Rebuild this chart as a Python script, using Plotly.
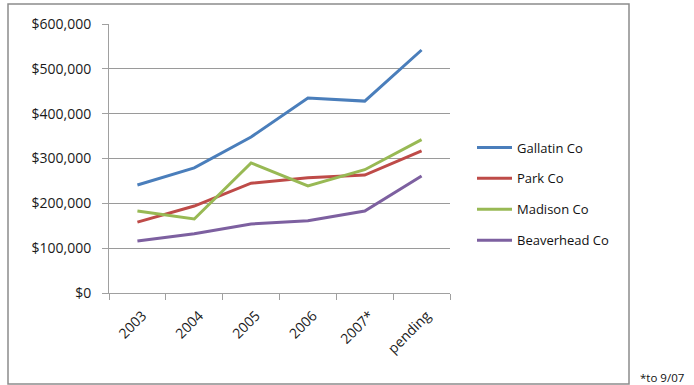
import plotly.graph_objects as go

categories = ["2003", "2004", "2005", "2006", "2007*", "pending"]
gallatin = [241000, 279000, 348000, 435000, 428000, 542000]
park = [158000, 194000, 245000, 257000, 263000, 317000]
madison = [183000, 165000, 290000, 239000, 275000, 342000]
beaverhead = [116000, 132000, 154000, 161000, 183000, 261000]
series_names = ["Gallatin Co", "Park Co", "Madison Co", "Beaverhead Co"]
colors = ["#4A7EBB", "#BE4B48", "#98B954", "#7D60A0"]
y_ticks = [0, 100000, 200000, 300000, 400000, 500000, 600000]
y_tick_labels = ["$0", "$100,000", "$200,000", "$300,000", "$400,000", "$500,000", "$600,000"]

FONT = "Open Sans, Liberation Sans, sans-serif"

fig = go.Figure()
for i, (name, vals) in enumerate(zip(series_names, [gallatin, park, madison, beaverhead])):
    fig.add_trace(go.Scatter(
        x=categories, y=vals, mode="lines", name=name,
        line=dict(color=colors[i], width=3),
        legendgroup=name,
    ))

PW = 341.0
PH = 269.0

fig.update_layout(
    width=694, height=385,
    margin=dict(l=109, r=244, t=24, b=92),
    paper_bgcolor="white", plot_bgcolor="white",
    font=dict(family=FONT, size=13, color="#222222"),
    showlegend=True,
    legend=dict(x=(472 - 109) / PW, y=(293 - 194) / PH, xanchor="left", yanchor="middle",
                font=dict(family=FONT, size=13, color="#111111"),
                tracegroupgap=11, itemwidth=35, bgcolor="rgba(0,0,0,0)"),
    xaxis=dict(
        type="category", range=[-0.5, 5.5], tickangle=-45,
        tickson="boundaries", ticks="outside", ticklen=6, tickcolor="#A0A0A0",
        showline=True, linecolor="#A0A0A0", linewidth=1,
        ticklabelstandoff=8, ticklabelshift=5,
        showgrid=False, tickfont=dict(family=FONT, size=14, color="#1a1a1a"),
    ),
    yaxis=dict(
        range=[0, 600000], tickvals=y_ticks, ticktext=y_tick_labels,
        ticks="outside", ticklen=6, tickcolor="#A0A0A0",
        showline=True, linecolor="#A0A0A0", linewidth=1,
        showgrid=True, gridcolor="#9A9A9A", gridwidth=1, zeroline=False,
        ticklabelstandoff=8,
        tickfont=dict(family=FONT, size=14, color="#1a1a1a"),
    ),
    shapes=[dict(type="rect", xref="paper", yref="paper",
                 x0=(8 - 109) / PW, x1=(629 - 109) / PW,
                 y0=(293 - 384) / PH, y1=(293 - 4) / PH,
                 line=dict(color="#8C8C8C", width=1.5), fillcolor="rgba(0,0,0,0)", layer="below")],
    annotations=[dict(text="*to 9/07", xref="paper", yref="paper",
                      x=(638 - 109) / PW, y=(293 - 377) / PH, xanchor="left", yanchor="middle",
                      showarrow=False, font=dict(family=FONT, size=11.5, color="#111111"))],
)

fig.write_html("out.html")
